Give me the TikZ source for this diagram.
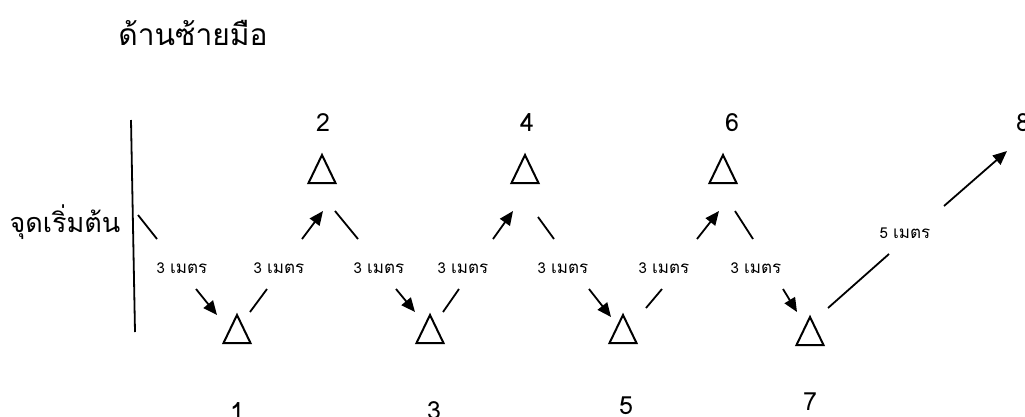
\documentclass[tikz,border=0pt]{standalone}
\usepackage{fontspec}
\setmainfont[Script=Thai]{Loma}
\usetikzlibrary{arrows.meta}
\newcommand{\thl}[1]{{\fontsize{17}{19}\selectfont #1}}
\begin{document}
\begin{tikzpicture}[x=1pt,y=-1pt,
  tri/.style={line width=2pt, line join=miter},
  seg/.style={line width=1.8pt},
  arr/.style={line width=1.8pt,-{Triangle[length=14pt,width=12pt]}},
  lbl/.style={font=\fontsize{15}{17}\selectfont, inner sep=0pt},
  num/.style={font=\fontsize{25}{28}\selectfont, inner sep=0pt, anchor=north},
  big/.style={font=\fontsize{30}{34}\selectfont, inner sep=0pt},
]
\useasboundingbox (0,0) rectangle (1025,416);

% titles
\node[big] (title) at (193,33) {ด้านซ้ายมือ};
\node[big, font=\fontsize{27}{30}\selectfont] (start) at (65,222) {จุดเริ่มต้น};
\coordinate (s1) at (131,120);
\coordinate (s2) at (135,332);
\draw[seg] (s1) -- (s2);

% triangles
\coordinate (t1) at (237,329);
\coordinate (t2) at (322,169);
\coordinate (t3) at (430,329);
\coordinate (t4) at (525,169);
\coordinate (t5) at (623,329);
\coordinate (t6) at (723,169);
\coordinate (t7) at (810,331);
\foreach \t in {t1,t2,t3,t4,t5,t6,t7}{
  \draw[tri] ([shift={(-13.5,14)}]\t) -- ([shift={(13.5,14)}]\t) -- ([shift={(0,-14)}]\t) -- cycle;
}

% numbers
\node[num] (n1) at (237,402) {1};
\node[num] (n2) at (323,113) {2};
\node[num] (n3) at (434,401) {3};
\node[num] (n4) at (527,113) {4};
\node[num] (n5) at (626,397) {5};
\node[num] (n6) at (732,113) {6};
\node[num] (n7) at (810,393) {7};
\node[num, anchor=north west] (n8) at (1016,113) {8};

% connector end points
\coordinate (a0) at (138,215); \coordinate (a1) at (157,239); \coordinate (a2) at (196,289); \coordinate (a3) at (217,315);
\coordinate (b0) at (250,312); \coordinate (b1) at (267,289); \coordinate (b2) at (302,239); \coordinate (b3) at (323,211);
\coordinate (c0) at (335,211); \coordinate (c1) at (358,239); \coordinate (c2) at (396,289); \coordinate (c3) at (415,312);
\coordinate (d0) at (443,312); \coordinate (d1) at (459,289); \coordinate (d2) at (493,239); \coordinate (d3) at (513,211);
\coordinate (e0) at (538,217); \coordinate (e1) at (554,239); \coordinate (e2) at (589,289); \coordinate (e3) at (611,317);
\coordinate (f0) at (646,308); \coordinate (f1) at (662,289); \coordinate (f2) at (697,239); \coordinate (f3) at (719,211);
\coordinate (g0) at (735,211); \coordinate (g1) at (753,239); \coordinate (g2) at (783,289); \coordinate (g3) at (797,312);
\coordinate (h0) at (828,308); \coordinate (h1) at (889,254); \coordinate (h2) at (944,206); \coordinate (h3) at (1007,151);

\foreach \p in {a,b,c,d,e,f,g,h}{
  \draw[seg] (\p0) -- (\p1);
  \draw[arr] (\p2) -- (\p3);
}

% labels
\node[lbl] (la) at (182,268) {3 \thl{เมตร}};
\node[lbl] (lb) at (279,268) {3 \thl{เมตร}};
\node[lbl] (lc) at (379,268) {3 \thl{เมตร}};
\node[lbl] (ld) at (463,268) {3 \thl{เมตร}};
\node[lbl] (le) at (563,268) {3 \thl{เมตร}};
\node[lbl] (lf) at (664,268) {3 \thl{เมตร}};
\node[lbl] (lg) at (756,268) {3 \thl{เมตร}};
\node[lbl] (lh) at (905,233) {5 \thl{เมตร}};
\end{tikzpicture}
\end{document}
